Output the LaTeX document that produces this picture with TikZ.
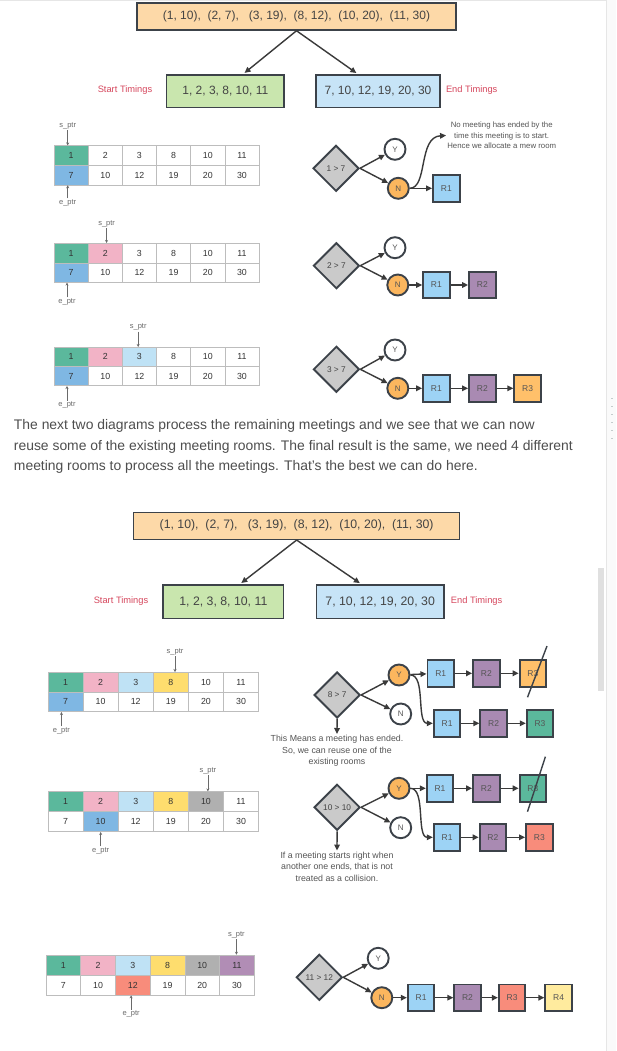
\documentclass[tikz,border=0pt]{standalone}
\usepackage{fontspec}
\setmainfont{Liberation Sans}
\usetikzlibrary{arrows.meta,shapes.geometric}
\definecolor{boxline}{HTML}{3C4249}
\definecolor{boxtext}{HTML}{444444}
\definecolor{arrline}{HTML}{3A3A3A}
\definecolor{labelred}{HTML}{D6475D}
\definecolor{corangebox}{HTML}{FDD9A8}
\definecolor{cgreenbox}{HTML}{C9E6AE}
\definecolor{cbluebox}{HTML}{C7E4F7}
\definecolor{cellline}{HTML}{BDBDBD}
\definecolor{celltext}{HTML}{333333}
\definecolor{ptrgrey}{HTML}{6A6A6A}
\definecolor{notegrey}{HTML}{555555}
\definecolor{paragrey}{HTML}{4E4E4E}
\definecolor{cgreen}{HTML}{5BB89C}
\definecolor{cblue}{HTML}{7FB7E3}
\definecolor{cpink}{HTML}{F2B3C6}
\definecolor{clblue}{HTML}{BFE2F5}
\definecolor{cyellow}{HTML}{FEDD6E}
\definecolor{cgrey}{HTML}{B0B0B0}
\definecolor{cpurple}{HTML}{B18DB5}
\definecolor{csalmon}{HTML}{F88C7B}
\definecolor{rblue}{HTML}{9DD3F5}
\definecolor{rpurple}{HTML}{A98AB2}
\definecolor{rorange}{HTML}{FFC06A}
\definecolor{rteal}{HTML}{5BB89C}
\definecolor{ryellow}{HTML}{FFEB9E}
\definecolor{corange}{HTML}{FBB65E}
\definecolor{decgrey}{HTML}{CACACA}
\definecolor{sidebg}{HTML}{FAFAFA}
\definecolor{sideline}{HTML}{E6E6E6}
\definecolor{scrollc}{HTML}{E0E0E0}
\definecolor{dotc}{HTML}{C4CCCC}

\newcommand\drawtable[7]{%
  \foreach \vv/\cc [count=\i] in {#6} {%
    \node[cell, fill=\cc, minimum width=#4pt, minimum height=#5pt] (#1a\i) at ({#2+(\i-0.5)*#4}, {#3+0.5*#5}) {\vv};}
  \foreach \vv/\cc [count=\i] in {#7} {%
    \node[cell, fill=\cc, minimum width=#4pt, minimum height=#5pt] (#1b\i) at ({#2+(\i-0.5)*#4}, {#3+1.5*#5}) {\vv};}
}

\begin{document}
\begin{tikzpicture}[x=1pt,y=-1pt,
  bigbox/.style={draw=boxline, line width=1.5pt, inner sep=0pt, text=boxtext, font=\fontsize{12}{12}\selectfont},
  tlabel/.style={text=labelred, font=\fontsize{9.3}{9.3}\selectfont, inner sep=0pt},
  cell/.style={draw=cellline, line width=0.6pt, inner sep=0pt, text=celltext, font=\fontsize{8.8}{8.8}\selectfont},
  ptr/.style={text=ptrgrey, font=\fontsize{7.5}{7.5}\selectfont, inner sep=1pt},
  parr/.style={draw=ptrgrey, line width=0.6pt, -{Stealth[length=3pt,width=3pt]}},
  dec/.style={diamond, aspect=1, draw=boxline, line width=1.9pt, fill=decgrey, minimum width=46pt, minimum height=46pt, inner sep=0pt, font=\fontsize{8.3}{8.3}\selectfont, text=boxtext},
  yn/.style={circle, draw=boxline, line width=1.9pt, fill=white, minimum size=21pt, inner sep=0pt, font=\fontsize{8}{8}\selectfont, text=notegrey},
  room/.style={rectangle, draw=boxline, line width=1.9pt, minimum size=26.5pt, inner sep=0pt, font=\fontsize{8.5}{8.5}\selectfont, text=notegrey},
  arr/.style={draw=arrline, line width=1.4pt, -{Triangle[length=6pt,width=5.5pt]}},
  slash/.style={draw=boxline, line width=1.4pt},
  note/.style={align=center, text=notegrey, inner sep=1pt},
  para/.style={anchor=west, text=paragrey, font=\fontsize{13.9}{13.9}\selectfont, inner sep=0pt}
]
\useasboundingbox (0,0) rectangle (616,1051);
\fill[white] (0,0) rectangle (616,1051);
% page chrome
\fill[sidebg] (606,0) rectangle (616,1051);
\draw[sideline, line width=0.8pt] (606,0) -- (606,1051);
\draw[sideline, line width=0.8pt] (0,0.6) -- (606,0.6);
\fill[scrollc] (597.7,568.3) rectangle (604,690.7);
\foreach \k in {0,...,5} \fill[dotc] (610.9,{397.5+8*\k}) rectangle ++(1.6,1.6);

% ================= first overview =================
\node[bigbox, fill=corangebox, minimum width=319pt, minimum height=27pt] (top1) at (296.5,16.5)
  {(1, 10),\ \ (2, 7),\ \ \ (3, 19),\ \ (8, 12),\ \ (10, 20),\ \ (11, 30)};
\node[bigbox, fill=cgreenbox, minimum width=117.3pt, minimum height=32.7pt] (st1) at (225.3,91.3) {1, 2, 3, 8, 10, 11};
\node[bigbox, fill=cbluebox, minimum width=124pt, minimum height=32.7pt] (en1) at (378,91.3) {7, 10, 12, 19, 20, 30};
\draw[arr, shorten >=2pt] (top1.south) -- ([xshift=17.7pt]st1.north);
\draw[arr, shorten >=2pt] (top1.south) -- ([xshift=-20pt]en1.north);
\node[tlabel] (stl1) at (125,90) {Start Timings};
\node[tlabel] (enl1) at (471.7,90) {End Timings};

% ================= row 1 =================
\drawtable{ta}{54}{145.7}{34.17}{19.65}{1/cgreen,2/white,3/white,8/white,10/white,11/white}{7/cblue,10/white,12/white,19/white,20/white,30/white}
\node[ptr] (sa) at (67.7,125.7) {s\_ptr};
\draw[parr] (sa.south) -- (sa.south |- taa1.north);
\node[ptr] (ea) at (67.7,202.7) {e\_ptr};
\draw[parr] (ea.north) -- (ea.north |- tab1.south);
\node[dec] (da) at (336,168.3) {1 > 7};
\node[yn] (ya) at (395,149.3) {Y};
\node[yn, fill=corange] (na) at (398.3,188.3) {N};
\draw[arr] (da.east) -- (ya);
\draw[arr] (da.east) -- (na);
\node[room, fill=rblue] (ra1) at (446.3,188.3) {R1};
\draw[arr] (na) -- (ra1);
\node[note, font=\fontsize{7.8}{10.4}\selectfont] (nota) at (501.7,135.5)
  {No meeting has ended by the\\time this meeting is to start.\\Hence we allocate a mew room};
\draw[arr] (na.east) .. controls (428,188) and (418,137) .. (nota.west);

% ================= row 2 =================
\drawtable{tb}{54}{243.3}{34.17}{19.5}{1/cgreen,2/cpink,3/white,8/white,10/white,11/white}{7/cblue,10/white,12/white,19/white,20/white,30/white}
\node[ptr] (sb) at (106.6,224) {s\_ptr};
\draw[parr] (sb.south) -- (sb.south |- tba2.north);
\node[ptr] (eb) at (67,301.7) {e\_ptr};
\draw[parr] (eb.north) -- (eb.north |- tbb1.south);
\node[dec] (db) at (336.4,265.7) {2 > 7};
\node[yn] (yb) at (395,247.7) {Y};
\node[yn, fill=corange] (nb) at (397.8,285) {N};
\draw[arr] (db.east) -- (yb);
\draw[arr] (db.east) -- (nb);
\node[room, fill=rblue] (rb1) at (436.4,285) {R1};
\node[room, fill=rpurple] (rb2) at (482.3,285) {R2};
\draw[arr] (nb) -- (rb1);
\draw[arr] (rb1) -- (rb2);

% ================= row 3 =================
\drawtable{tc}{54}{347.3}{34.17}{19.2}{1/cgreen,2/cpink,3/clblue,8/white,10/white,11/white}{7/cblue,10/white,12/white,19/white,20/white,30/white}
\node[ptr] (sc) at (138.2,327.3) {s\_ptr};
\draw[parr] (sc.south) -- (sc.south |- tca3.north);
\node[ptr] (ec) at (67,405) {e\_ptr};
\draw[parr] (ec.north) -- (ec.north |- tcb1.south);
\node[dec] (dc) at (336.4,369.3) {3 > 7};
\node[yn] (yc) at (395,350) {Y};
\node[yn, fill=corange] (nc) at (397.8,388.3) {N};
\draw[arr] (dc.east) -- (yc);
\draw[arr] (dc.east) -- (nc);
\node[room, fill=rblue] (rc1) at (436.4,388.3) {R1};
\node[room, fill=rpurple] (rc2) at (482.3,388.3) {R2};
\node[room, fill=rorange] (rc3) at (527.6,388.3) {R3};
\draw[arr] (nc) -- (rc1);
\draw[arr] (rc1) -- (rc2);
\draw[arr] (rc2) -- (rc3);

% ================= paragraph =================
\node[para] (p1) at (13.75,425.7) {The next two diagrams process the remaining meetings and we see that we can now};
\node[para] (p2) at (13.75,446.7) {reuse some of the existing meeting rooms. The final result is the same, we need 4 different};
\node[para] (p3) at (13.75,467.3) {meeting rooms to process all the meetings. That's the best we can do here.};

% ================= second overview =================
\node[bigbox, fill=corangebox, minimum width=326.1pt, minimum height=27pt, font=\fontsize{12.3}{12.3}\selectfont] (top2) at (296.65,525.8)
  {(1, 10),\ \ (2, 7),\ \ \ (3, 19),\ \ (8, 12),\ \ (10, 20),\ \ (11, 30)};
\node[bigbox, fill=cgreenbox, minimum width=120.7pt, minimum height=33.3pt, font=\fontsize{12.3}{12.3}\selectfont] (st2) at (223.35,601.65) {1, 2, 3, 8, 10, 11};
\node[bigbox, fill=cbluebox, minimum width=127.7pt, minimum height=33.3pt, font=\fontsize{12.3}{12.3}\selectfont] (en2) at (380.15,601.65) {7, 10, 12, 19, 20, 30};
\draw[arr, shorten >=2pt] (top2.south) -- ([xshift=16.35pt]st2.north);
\draw[arr, shorten >=2pt] (top2.south) -- ([xshift=-18.65pt]en2.north);
\node[tlabel] (stl2) at (121,601) {Start Timings};
\node[tlabel] (enl2) at (476.6,601) {End Timings};

% ================= row 4 =================
\drawtable{td}{47.9}{672.3}{35.12}{19.7}{1/cgreen,2/cpink,3/clblue,8/cyellow,10/white,11/white}{7/cblue,10/white,12/white,19/white,20/white,30/white}
\node[ptr] (sd) at (175,651.7) {s\_ptr};
\draw[parr] (sd.south) -- (sd.south |- tda4.north);
\node[ptr] (ed) at (61.4,730.7) {e\_ptr};
\draw[parr] (ed.north) -- (ed.north |- tdb1.south);
\node[dec] (dd) at (337.1,695) {8 > 7};
\node[note, font=\fontsize{8.8}{11.7}\selectfont] (notd) at (337,751)
  {This Means a meeting has ended.\\So, we can reuse one of the\\existing rooms};
\draw[arr] (dd.south) -- (notd.north);
\node[yn, fill=corange] (yd) at (399,675) {Y};
\node[yn] (nd) at (400.7,714) {N};
\draw[arr] (dd.east) -- (yd);
\draw[arr] (dd.east) -- (nd);
\node[room, fill=rblue] (rd1) at (440.7,673.3) {R1};
\node[room, fill=rpurple] (rd2) at (486.4,673.3) {R2};
\node[room, fill=rorange] (rd3) at (532.9,673.3) {R3};
\draw[arr] (yd) -- (rd1);
\draw[arr] (rd1) -- (rd2);
\draw[arr] (rd2) -- (rd3);
\draw[slash] (547,646) -- (527.5,697.3);
\node[room, fill=rblue] (rd4) at (447.1,723.3) {R1};
\node[room, fill=rpurple] (rd5) at (493.6,723.3) {R2};
\node[room, fill=rteal] (rd6) at (540,723.3) {R3};
\draw[arr] (yd.east) .. controls (426,675) and (416,723.3) .. (rd4.west);
\draw[arr] (rd4) -- (rd5);
\draw[arr] (rd5) -- (rd6);

% ================= row 5 =================
\drawtable{te}{47.9}{791.7}{35.12}{20}{1/cgreen,2/cpink,3/clblue,8/cyellow,10/cgrey,11/white}{7/white,10/cblue,12/white,19/white,20/white,30/white}
\node[ptr] (se) at (207.9,770.7) {s\_ptr};
\draw[parr] (se.south) -- (se.south |- tea5.north);
\node[ptr] (ee) at (100.7,850.7) {e\_ptr};
\draw[parr] (ee.north) -- (ee.north |- teb2.south);
\node[dec] (de) at (337.1,807.3) {10 > 10};
\node[note, font=\fontsize{8.8}{11.7}\selectfont] (note) at (337,866.7)
  {If a meeting starts right when\\another one ends, that is not\\treated as a collision.};
\draw[arr] (de.south) -- (note.north);
\node[yn, fill=corange] (ye) at (399,788.3) {Y};
\node[yn] (ne) at (400.7,827.7) {N};
\draw[arr] (de.east) -- (ye);
\draw[arr] (de.east) -- (ne);
\node[room, fill=rblue] (re1) at (440,788.3) {R1};
\node[room, fill=rpurple] (re2) at (486.4,788.3) {R2};
\node[room, fill=rteal] (re3) at (532.9,788.3) {R3};
\draw[arr] (ye) -- (re1);
\draw[arr] (re1) -- (re2);
\draw[arr] (re2) -- (re3);
\draw[slash] (545.4,756.7) -- (527.5,811.7);
\node[room, fill=rblue] (re4) at (447.1,837.3) {R1};
\node[room, fill=rpurple] (re5) at (492.9,837.3) {R2};
\node[room, fill=csalmon] (re6) at (539.3,837.3) {R3};
\draw[arr] (ye.east) .. controls (426,788.3) and (416,837.3) .. (re4.west);
\draw[arr] (re4) -- (re5);
\draw[arr] (re5) -- (re6);

% ================= row 6 =================
\drawtable{tf}{46}{955}{34.72}{20}{1/cgreen,2/cpink,3/clblue,8/cyellow,10/cgrey,11/cpurple}{7/white,10/white,12/csalmon,19/white,20/white,30/white}
\node[ptr] (sf) at (236.4,935) {s\_ptr};
\draw[parr] (sf.south) -- (sf.south |- tfa6.north);
\node[ptr] (ef) at (131.1,1014) {e\_ptr};
\draw[parr] (ef.north) -- (ef.north |- tfb3.south);
\node[dec] (df) at (319.3,977.3) {11 > 12};
\node[yn] (yf) at (378.2,958.3) {Y};
\node[yn, fill=corange] (nf) at (381.8,997.7) {N};
\draw[arr] (df.east) -- (yf);
\draw[arr] (df.east) -- (nf);
\node[room, fill=rblue] (rf1) at (421.1,997.7) {R1};
\node[room, fill=rpurple] (rf2) at (467.5,997.7) {R2};
\node[room, fill=csalmon] (rf3) at (512.1,997.7) {R3};
\node[room, fill=ryellow] (rf4) at (558.6,997.7) {R4};
\draw[arr] (nf) -- (rf1);
\draw[arr] (rf1) -- (rf2);
\draw[arr] (rf2) -- (rf3);
\draw[arr] (rf3) -- (rf4);
\end{tikzpicture}
\end{document}
